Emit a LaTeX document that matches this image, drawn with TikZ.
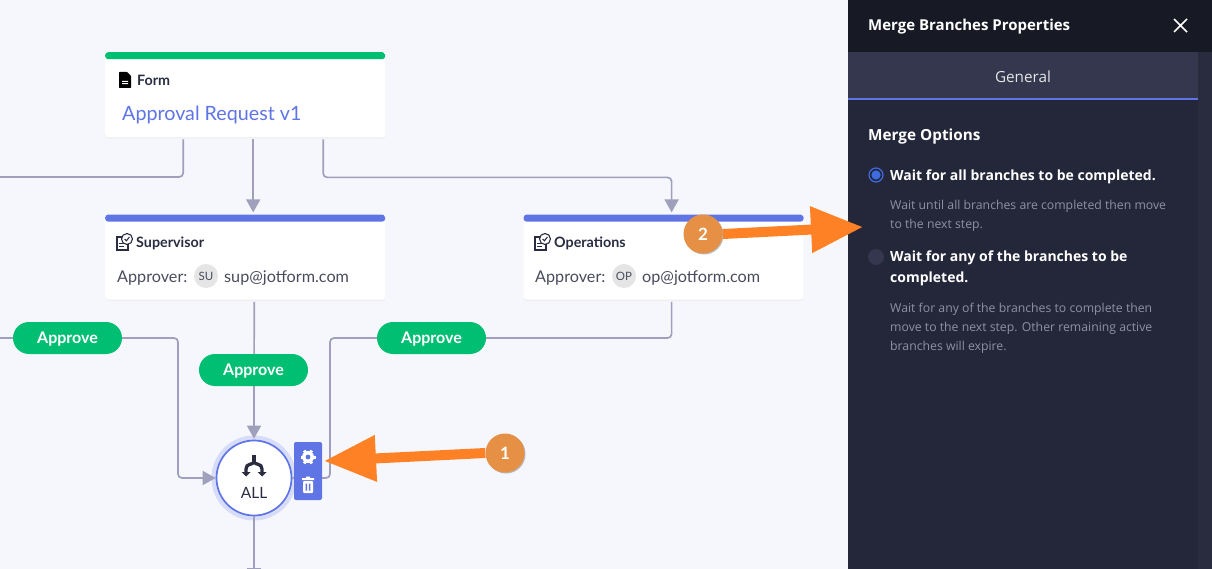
\documentclass[tikz,border=0pt]{standalone}
\usepackage{fontspec}
\setmainfont{Lato}
\newfontfamily\panelfont{Open Sans}
\usetikzlibrary{positioning,calc,arrows.meta,shadows}

\definecolor{canvascol}{HTML}{F6F7FC}
\definecolor{linecol}{HTML}{A0A0BC}
\definecolor{greencol}{HTML}{00BE72}
\definecolor{bluecol}{HTML}{5F74E5}
\definecolor{inkcol}{HTML}{2A2D42}
\definecolor{orangecol}{HTML}{FF8126}
\definecolor{badgecol}{HTML}{E69045}
\definecolor{panelcol}{HTML}{232739}
\definecolor{headcol}{HTML}{171924}
\definecolor{tabcol}{HTML}{34374D}
\definecolor{scrollcol}{HTML}{292C3F}
\definecolor{mutedcol}{HTML}{8E91A3}
\definecolor{radiocol}{HTML}{3F6BE0}

\tikzset{
    card/.style={minimum width=280pt,minimum height=85pt,inner sep=0pt,fill=white,rounded corners=3pt,
        drop shadow={shadow xshift=0pt,shadow yshift=-1.5pt,fill=black!8,opacity=.6},
        path picture={\fill[#1] (path picture bounding box.north west) rectangle
            ([yshift=-7pt]path picture bounding box.north east);}},
    flow/.style={draw=linecol,line width=1.7pt,rounded corners=4pt},
    flowtip/.style={flow,-{Triangle[length=13pt,width=14pt]}},
    pill/.style={fill=greencol,text=white,font=\fontsize{16}{18}\selectfont\bfseries,text height=13pt,text depth=3pt,
        minimum width=109pt,minimum height=32pt,inner sep=0pt,rounded corners=16pt},
    cardhead/.style={font=\fontsize{14.3}{16}\selectfont\bfseries,text=inkcol,inner sep=0pt,anchor=west},
    cardtext/.style={font=\fontsize{16.2}{18}\selectfont,text=inkcol!85,inner sep=0pt,anchor=west},
    avatar/.style={circle,fill=black!10,text=inkcol!85,minimum size=24pt,inner sep=0pt,font=\fontsize{11.5}{12}\selectfont},
    callout/.style={draw=orangecol,line width=10pt,-{Triangle[length=52pt,width=44pt]}},
    badge/.style={circle,fill=badgecol,text=white,minimum size=39pt,inner sep=0pt,font=\fontsize{17}{18}\selectfont\bfseries,
        drop shadow={shadow xshift=1pt,shadow yshift=-1pt,fill=black!45,opacity=.6}},
    paneltitle/.style={font=\panelfont\fontsize{15}{18}\selectfont\bfseries,text=white,inner sep=0pt,anchor=west},
    optionhead/.style={font=\panelfont\fontsize{14}{21}\selectfont\bfseries,text=white,inner sep=0pt,anchor=north west,align=left},
    optionnote/.style={font=\panelfont\fontsize{12.25}{19.4}\selectfont,text=mutedcol,inner sep=0pt,anchor=north west,align=left},
    pics/docicon/.style={code={
        \fill[black,rounded corners=.6pt] (-6,-8) -- (2,-8) -- (6,-4) -- (6,8) -- (-6,8) -- cycle;
        \fill[white] (-3,1) rectangle (3,2) (-3,3.2) rectangle (3,4.2);
    }},
    pics/checkicon/.style={code={
        \draw[inkcol,line width=1.2pt,fill=white] (-6,-4) -- (5,-4) -- (5,9) -- (-6,9) -- cycle;
        \draw[inkcol,line width=.9pt] (-4,2) -- (1,2) (-4,5) -- (1,5);
        \draw[inkcol,line width=1.1pt,fill=white] (4,-2) circle (5.5);
        \draw[inkcol,line width=1.1pt] (1.6,-2) -- (3.4,-.2) -- (6.4,-4);
    }},
    pics/gearicon/.style={code={
        \foreach \a in {0,60,...,300}
            \draw[white,line width=3pt] (0,0) -- (\a:7.5);
        \fill[white] (0,0) circle (6);
        \fill[bluecol] (0,0) circle (2.4);
    }},
    pics/binicon/.style={code={
        \fill[white] (-6,-7) rectangle (6,-5) (-2,-8.5) rectangle (2,-6);
        \fill[white,rounded corners=1pt] (-5,-4) rectangle (5,8);
        \fill[bluecol] (-2.4,-1.5) rectangle (-.8,5.5) (.8,-1.5) rectangle (2.4,5.5);
    }},
    pics/mergeicon/.style={code={
        \draw[inkcol,line width=3.3pt] (0,-23) -- (0,-16);
        \draw[inkcol,line width=3.3pt] (0,-16) .. controls (-1,-13) and (-8,-15) .. (-8,-9) -- (-8,-5);
        \draw[inkcol,line width=3.3pt] (0,-16) .. controls (1,-13) and (8,-15) .. (8,-9) -- (8,-5);
        \fill[inkcol] (-12.5,-6) -- (-3.5,-6) -- (-8,-1.5) -- cycle (3.5,-6) -- (12.5,-6) -- (8,-1.5) -- cycle;
    }}
}

\begin{document}
\begin{tikzpicture}[x=1pt,y=-1pt]
    \useasboundingbox (0,0) rectangle (1212,569);
    \fill[canvascol] (0,0) rectangle (848,569);

    % cards
    \node (form) [card=greencol,anchor=north west] at (105,52) {};
    \node (supervisor) [card=bluecol,below=77pt of form] {};
    \node (operations) [card=bluecol,right=138pt of supervisor] {};

    \pic at (125,80) {docicon};
    \node (formhead) [cardhead] at (137,80.5) {Form};
    \node (formname) [inner sep=0pt,anchor=west,text=bluecol,font=\fontsize{19.7}{22}\selectfont] at (122,115) {Approval Request v1};

    \pic at (123,241) {checkicon};
    \node (suphead) [cardhead] at (136,243) {Supervisor};
    \node (suplabel) [cardtext] at (117,278.5) {Approver:};
    \node (supavatar) [avatar] at (206,276) {SU};
    \node (supmail) [cardtext] at (224,278.5) {sup@jotform.com};

    \pic at (541,241) {checkicon};
    \node (ophead) [cardhead] at (554,243) {Operations};
    \node (oplabel) [cardtext] at (535,278.5) {Approver:};
    \node (opavatar) [avatar] at (624,276) {OP};
    \node (opmail) [cardtext] at (642,278.5) {op@jotform.com};

    % merge node
    \fill[bluecol!25] (254,478) circle (42.5);
    \node (merge) [circle,fill=white,draw=bluecol,line width=1.7pt,minimum size=75pt,inner sep=0pt] at (254,478) {};
    \pic at (254,478) {mergeicon};
    \node (mergename) [inner sep=0pt,text=inkcol,font=\fontsize{15.5}{18}\selectfont] at (254,493) {ALL};

    \coordinate (formleft) at (0,177);
    \coordinate (approveleft) at (0,338);
    \coordinate (mergeout) at (254,581);

    % connectors
    \draw[flow] ([xshift=-62pt,yshift=-2pt]form.south) |- (formleft);
    \draw[flowtip] ([xshift=8pt,yshift=-2pt]form.south) -- ([xshift=8pt,yshift=2pt]supervisor.north);
    \draw[flowtip] ([xshift=78pt,yshift=-2pt]form.south) -- ++(0,38) -| ([xshift=8pt,yshift=2pt]operations.north);
    \draw[flowtip] ([xshift=9pt,yshift=-2pt]supervisor.south) -- ([yshift=1pt]merge.north);
    \draw[flowtip] (approveleft) -| (178,478) -- (merge.west);
    \draw[flow] ([xshift=8pt,yshift=-2pt]operations.south) |- (330,338) |- (merge.east);
    \draw[flowtip] (merge.south) -- (mergeout);

    % pills
    \node (approveone) [pill] at (67.5,338) {Approve};
    \node (approvetwo) [pill] at (253.5,370) {Approve};
    \node (approvethree) [pill] at (431.5,338) {Approve};

    % toolbar
    \node (toolbar) [fill=bluecol,minimum width=28pt,minimum height=58pt,inner sep=0pt,rounded corners=2pt] at (308,471) {};
    \pic at (308,457) {gearicon};
    \pic at (308,485) {binicon};

    % side panel
    \fill[panelcol] (848,0) rectangle (1212,569);
    \fill[scrollcol] (1198,52) rectangle (1212,569);
    \fill[headcol] (848,0) rectangle (1212,52);
    \fill[tabcol] (848,52) rectangle (1198,98);
    \fill[bluecol] (848,98) rectangle (1198,100);
    \node (paneltop) [paneltitle] at (868,27) {Merge Branches Properties};
    \draw[white,line width=1.6pt] (1174,19) -- (1187,32) (1187,19) -- (1174,32);
    \node (tabname) [inner sep=0pt,text=white!90!black,font=\panelfont\fontsize{15.3}{18}\selectfont] at (1023,77) {General};
    \node (optionstitle) [paneltitle,font=\panelfont\fontsize{15.3}{18}\selectfont\bfseries] at (868,137) {Merge Options};

    \node (radioall) [circle,draw=radiocol,line width=1.2pt,fill=panelcol,minimum size=14pt,inner sep=0pt] at (876,175) {};
    \fill[radiocol] (radioall) circle (4.6);
    \node (waitall) [optionhead] at (890,169.5) {Wait for all branches to be completed.};
    \node (noteall) [optionnote] at (890,199.5) {Wait until all branches are completed then move\\to the next step.};
    \node (radioany) [circle,fill=tabcol,minimum size=16pt,inner sep=0pt] at (876,257) {};
    \node (waitany) [optionhead] at (890,250.5) {Wait for any of the branches to be\\completed.};
    \node (noteany) [optionnote] at (890,302.5) {Wait for any of the branches to complete then\\move to the next step. Other remaining active\\branches will expire.};

    % callouts
    \node (badgeone) [badge] at (505,453) {1};
    \node (badgetwo) [badge] at (703,234) {2};
    \coordinate (gearpoint) at (324,461);
    \coordinate (panelpoint) at (863,227);
    \draw[callout] (badgeone.west) -- (gearpoint);
    \draw[callout] (badgetwo.east) -- (panelpoint);
\end{tikzpicture}
\end{document}
